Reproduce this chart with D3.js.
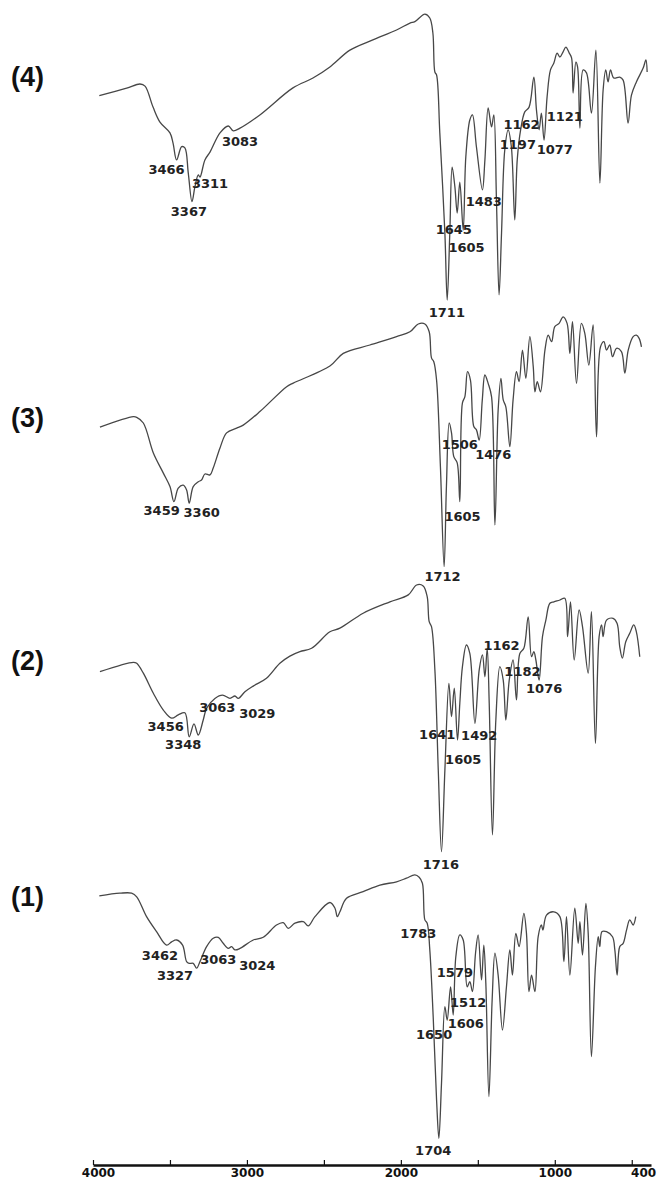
<!DOCTYPE html>
<html>
<head>
<meta charset="utf-8">
<script src="https://cdn.jsdelivr.net/npm/d3@7"></script>
<style>
  body { margin: 0; background: #fff; }
  .trace { fill: none; stroke: #474747; stroke-width: 1.3; stroke-linejoin: round; }
  .peak { font-family: "DejaVu Sans", Verdana, sans-serif; font-weight: bold; font-size: 13px; fill: #222; text-anchor: middle; }
  .tag { font-family: "Liberation Sans", Arial, sans-serif; font-weight: bold; font-size: 27px; fill: #111; }
  .axis text { font-family: "DejaVu Sans", Verdana, sans-serif; font-weight: bold; font-size: 12px; fill: #111; }
</style>
</head>
<body>
<div id="chart"></div>
<script>
// sample names, top to bottom
var samples = ["(4)", "(3)", "(2)", "(1)"];

// sample (4)
var wn4 = [3959,3781,3695,3662,3610,3565,3500,3480,3457,3424,3403,3381,3357,3338,3316,3305,3273,3240,3175,3121,3089,3045,2916,2701,2571,2461,2331,2182,2028,1941,1909,1844,1812,1792,1779,1768,1747,1714,1699,1682,1667,1649,1634,1617,1595,1578,1552,1535,1509,1470,1454,1433,1411,1396,1379,1362,1346,1325,1303,1282,1260,1244,1222,1195,1167,1136,1119,1102,1087,1070,1050,1028,1006,985,967,946,928,906,891,881,863,852,837,816,794,762,733,707,686,669,654,638,617,578,556,524,502,470,426,408,400];
var t4 = [68.1,70.6,72,71.3,64.3,59.3,55.7,52.3,46.7,51.1,50.7,42.3,32.8,37.7,41.7,41,46.7,49.3,55.7,58,56.4,57.3,61.7,70.7,74,77.7,83.3,86.7,90,92.3,92.8,95.3,94,89,76,75,55.7,22.3,0,22.3,44.3,37.7,29,39.3,23.3,47.7,60,61.7,51,36.7,46.7,64,57.7,61.7,33.3,1.7,22.3,50,56.7,51,26.7,46.7,56.7,62.7,64.3,74.3,63.3,56.7,62.3,53.3,67.7,76.7,79,82.3,81,82.7,84.3,82.3,80.7,69,79.3,77.7,57.3,76.7,75.7,62.3,83.3,39,70,76.7,72.7,76.7,74,74.3,73.3,59,68.3,72.7,77.3,80,76];

// sample (3)
var wn3 = [3955,3738,3716,3673,3608,3543,3500,3474,3446,3414,3392,3375,3349,3316,3295,3273,3240,3219,3175,3132,3067,3024,2916,2742,2699,2461,2374,2201,2028,1941,1887,1844,1816,1801,1786,1768,1743,1719,1704,1686,1671,1656,1634,1617,1600,1584,1567,1548,1526,1509,1491,1471,1454,1433,1411,1389,1368,1350,1335,1318,1292,1271,1249,1232,1210,1188,1162,1140,1129,1114,1093,1064,1043,1021,1000,972,946,920,902,885,859,827,805,779,751,729,703,681,664,643,625,599,567,545,523,491,470,452,437];
var t3 = [57.6,61.1,60.9,59,49,42.3,37.8,32.8,37.3,38.3,36.7,32.3,37.8,39.4,40,42,41.7,44,50.7,55.7,57.3,58.3,62.8,71.1,72.3,78,82.2,85,87.8,89.4,92,92,89.4,80.7,79.4,73.3,44.4,11.1,37.8,59,55.7,47.8,45.7,32.8,65.7,67.8,76.1,73.3,57.8,56.7,53.3,66.7,75,72.2,67.8,25,63.3,73.9,66.7,64.4,51.1,66.7,76.1,72.8,83.3,73.9,87.8,77.8,69.4,72.8,69.4,83.3,88.3,86.1,91.1,92.2,94.4,92.2,82.2,92.8,72.2,92.2,88.9,78.3,91.7,54.4,84.4,86.1,83.3,85,81.1,83.9,82.8,75.6,83.3,87.8,88.3,87.2,84.4];

// sample (2)
var wn2 = [3955,3738,3716,3673,3608,3543,3489,3446,3403,3375,3344,3316,3284,3262,3208,3158,3110,3078,3056,3013,2959,2873,2786,2721,2656,2580,2461,2396,2245,2071,1952,1898,1855,1829,1816,1801,1779,1757,1736,1714,1688,1671,1653,1632,1617,1600,1574,1552,1519,1491,1470,1454,1439,1426,1405,1383,1357,1335,1318,1296,1271,1249,1227,1201,1173,1151,1136,1123,1102,1080,1058,1032,1006,967,935,917,898,874,842,820,783,762,736,712,696,686,664,621,595,578,561,539,513,487,470,448];
var t2 = [66.1,69.2,68.9,65.6,58.9,53.3,50.6,51.7,52.4,44.4,48.7,45,50,53.9,57.2,58.3,57.2,58,57.2,59.4,61.3,63.9,68.9,71.3,72.8,73.9,79.4,80.6,85.6,89.4,91.7,95,94.7,91.1,82.8,81.1,66.7,33.3,6.1,33.3,62.2,51.1,60.6,43.3,55.6,67.8,75,72.2,48.9,66.7,71.7,64.4,73.9,55.6,11.7,50,67.8,63.3,50,63.3,70,56.7,72.2,73.9,84.4,71.1,72.8,70,63.3,77.8,83.3,88.9,89.4,90,90.6,77.8,89.4,70,86.7,81.1,65.6,86.1,42.2,77.8,81.7,77.8,83.3,83.9,82.2,74.4,70.6,76.1,78.9,81.7,79.4,71.1];

// sample (1)
var wn1 = [3959,3825,3749,3716,3652,3587,3522,3489,3457,3418,3392,3375,3349,3327,3305,3262,3219,3186,3154,3121,3100,3078,3045,2959,2894,2808,2764,2732,2688,2634,2602,2558,2461,2428,2413,2396,2353,2245,2136,2028,1964,1909,1881,1860,1844,1829,1812,1790,1768,1753,1736,1714,1699,1677,1660,1643,1617,1595,1569,1552,1535,1515,1498,1476,1461,1448,1428,1407,1389,1368,1340,1314,1292,1275,1253,1232,1201,1184,1168,1151,1129,1108,1087,1077,1054,1006,967,941,924,902,870,848,837,820,798,783,762,736,718,708,693,664,625,610,595,578,556,534,513,491,474];
var t1 = [84.7,85.6,85.6,84.4,77.8,72.8,68.3,69.4,70,68.3,62.8,62.2,62.2,60.6,62.8,67.8,70.6,70.9,68.9,67.2,67.8,66.7,67.2,70,70.9,75,75.8,73.9,75.6,76.1,74.7,77.8,82.5,80.6,77.8,79.4,83.9,86.1,88.3,89.4,90.6,91.7,90.9,88.9,76.7,75.6,66.7,44.4,16.7,3.9,22.2,47.8,43.3,54.4,45,64.4,71.7,70,54.4,56.1,52.8,65.6,71.7,56.7,68.3,55.6,17.8,50,65.6,58.3,40,54.4,66.7,58.3,72.2,67.8,78.9,72.2,52.8,58.3,52.8,71.1,75,73.3,78.3,79.4,77.8,62.8,77.8,58.3,80.6,68.9,76.1,65,82.2,72.2,31.1,61.1,71.1,67.8,72.8,72.8,71.1,66.7,58.3,67.8,68.9,73.3,76.7,75,77.8];

// peak labels: [text, wavenumber, transmittance] where the label sits
var peaks4 = [["3466",3522,43.7],["3311",3240,39],["3367",3377,29.7],["3083",3045,53],["1711",1701,-4],["1645",1656,23.7],["1605",1573,17.7],["1483",1461,33],["1162",1216,58.7],["1197",1240,52],["1121",935,61.3],["1077",1000,50.3]];
var peaks3 = [["3459",3554,29.8],["3360",3294,29.2],["1712",1729,8],["1605",1599,28],["1506",1617,51.9],["1476",1400,48.7]];
var peaks2 = [["3456",3528,47.8],["3348",3414,42],["3063",3193,54.1],["3029",2933,52.2],["1716",1740,1.9],["1641",1764,45.2],["1605",1595,36.9],["1492",1491,45],["1162",1346,75],["1182",1210,66.4],["1076",1069,60.6]];
var peaks1 = [["3462",3565,65],["3327",3467,58.3],["3063",3186,63.7],["3024",2933,61.7],["1783",1887,72.2],["1579",1649,59.1],["1512",1563,49.4],["1606",1578,42.4],["1650",1784,38.6],["1704",1790,0]];

var xTicks = [4000,3500,3000,2500,2000,1500,1000,500,400];
var xLabels = [4000,3000,2000,1000,400];

var width = 659, height = 1179;
var svg = d3.select("#chart").append("svg")
    .attr("width", width)
    .attr("height", height);
svg.append("rect").attr("width", width).attr("height", height).attr("fill", "#fff");

var x = d3.scaleLinear().domain([4000, 375]).range([93, 651]);

// each spectrum gets its own band, stacked top to bottom
var panels = [
  {name: samples[0], wn: wn4, t: t4, peaks: peaks4, top: 0,   tagY: 86},
  {name: samples[1], wn: wn3, t: t3, peaks: peaks3, top: 300, tagY: 427},
  {name: samples[2], wn: wn2, t: t2, peaks: peaks2, top: 570, tagY: 670},
  {name: samples[3], wn: wn1, t: t1, peaks: peaks1, top: 850, tagY: 906}
];

var line = d3.line().curve(d3.curveCatmullRom.alpha(0.5));

panels.forEach(function(p){
  var y = d3.scaleLinear().domain([0, 100]).range([p.top + 300, p.top]);
  var pts = p.wn.map(function(w, i){ return [x(w), y(p.t[i])]; });
  var g = svg.append("g");

  g.append("path")
    .attr("class", "trace")
    .attr("d", line(pts));

  g.selectAll(".peak")
    .data(p.peaks)
    .enter()
    .append("text")
    .attr("class", "peak")
    .attr("x", function(d){ return x(d[1]); })
    .attr("y", function(d){ return y(d[2]) + 4.7; })
    .text(function(d){ return d[0]; });

  svg.append("text")
    .attr("class", "tag")
    .attr("x", 11)
    .attr("y", p.tagY)
    .text(p.name);
});

// bottom axis, ticks point up
var axis = d3.axisBottom(x)
  .tickValues(xTicks)
  .tickSizeInner(-5)
  .tickSizeOuter(0)
  .tickPadding(3)
  .tickFormat(function(d){ return xLabels.indexOf(d) >= 0 ? d : ""; });

var ax = svg.append("g")
  .attr("class", "axis")
  .attr("transform", "translate(0,1165)")
  .call(axis);
ax.select(".domain").attr("stroke", "#111").attr("stroke-width", 2.5);
ax.selectAll(".tick line").attr("stroke", "#111").attr("stroke-width", 1.2)
  .filter(function(d){ return d === 400; }).remove();
ax.selectAll(".tick text").filter(function(d){ return d === 4000; }).attr("dx", 5);
ax.selectAll(".tick text").filter(function(d){ return d === 400; }).attr("dx", -4);
</script>
</body>
</html>
